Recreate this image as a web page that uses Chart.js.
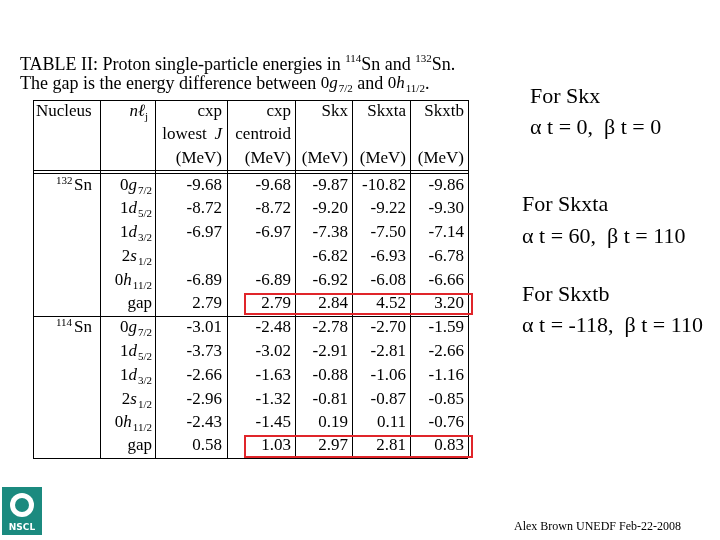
<!DOCTYPE html>
<html><head><meta charset="utf-8">
<script src="https://cdn.jsdelivr.net/npm/chart.js@4/dist/chart.umd.min.js"></script>
<style>html,body{margin:0;padding:0;background:#fff}#c{display:block}</style>
</head><body><canvas id="c" width="720" height="540"></canvas>
<script>
// table values (MeV), one list per column and nucleus
const orbitals = [["0","g","7/2"],["1","d","5/2"],["1","d","3/2"],["2","s","1/2"],["0","h","11/2"],["gap","",""]];
const sn132Exp   = [-9.68, -8.72, -6.97, null, -6.89, 2.79];
const sn132Cen   = [-9.68, -8.72, -6.97, null, -6.89, 2.79];
const sn132Skx   = [-9.87, -9.20, -7.38, -6.82, -6.92, 2.84];
const sn132Skxta = [-10.82, -9.22, -7.50, -6.93, -6.08, 4.52];
const sn132Skxtb = [-9.86, -9.30, -7.14, -6.78, -6.66, 3.20];
const sn114Exp   = [-3.01, -3.73, -2.66, -2.96, -2.43, 0.58];
const sn114Cen   = [-2.48, -3.02, -1.63, -1.32, -1.45, 1.03];
const sn114Skx   = [-2.78, -2.91, -0.88, -0.81, 0.19, 2.97];
const sn114Skxta = [-2.70, -2.81, -1.06, -0.87, 0.11, 2.81];
const sn114Skxtb = [-1.59, -2.66, -1.16, -0.85, -0.76, 0.83];

const colRight = [222, 291, 348, 406, 464];
const rowY132 = [186, 209, 233, 257, 281, 304];
const rowY114 = [328, 352, 376, 400, 423, 446];

const points = [];
function addCols(cols, ys) {
  cols.forEach((col, ci) => col.forEach((v, ri) => {
    if (v !== null) points.push({ x: colRight[ci], y: ys[ri], t: v.toFixed(2) });
  }));
}
addCols([sn132Exp, sn132Cen, sn132Skx, sn132Skxta, sn132Skxtb], rowY132);
addCols([sn114Exp, sn114Cen, sn114Skx, sn114Skxta, sn114Skxtb], rowY114);

const serif = '"Liberation Serif", "DejaVu Serif", serif';
const F = "17px " + serif, FI = "italic 17px " + serif, FS = "11px " + serif;

function orbWidth(ctx, o) {
  ctx.font = F; let w = ctx.measureText(o[0]).width;
  ctx.font = FI; w += ctx.measureText(o[1]).width + 1;
  ctx.font = FS; w += ctx.measureText(o[2]).width;
  return w;
}
function orbLeft(ctx, o, x, y) {
  ctx.textAlign = "left";
  ctx.font = F; ctx.fillText(o[0], x, y); x += ctx.measureText(o[0]).width;
  ctx.font = FI; ctx.fillText(o[1], x, y); x += ctx.measureText(o[1]).width + 1;
  ctx.font = FS; ctx.fillText(o[2], x, y + 5);
  return x + ctx.measureText(o[2]).width;
}
function orb(ctx, o, xr, y) {
  ctx.textAlign = "left";
  if (o[0] === "gap") {
    ctx.font = F;
    ctx.fillText("gap", xr - ctx.measureText("gap").width, y);
    return;
  }
  orbLeft(ctx, o, xr - orbWidth(ctx, o), y);
}

const tablePlugin = {
  id: "table",
  afterDatasetsDraw(chart) {
    const ctx = chart.ctx, xs = chart.scales.x, ys = chart.scales.y;
    const X = v => xs.getPixelForValue(v), Y = v => ys.getPixelForValue(v);
    ctx.save();
    ctx.fillStyle = "#000"; ctx.strokeStyle = "#000"; ctx.textBaseline = "middle";
    // caption
    const CF = "18px " + serif, CS = "11px " + serif;
    ctx.textAlign = "left";
    let x = 20;
    const put = (t, f, dy) => { ctx.font = f; ctx.fillText(t, x, 65 + dy); x += ctx.measureText(t).width; };
    put("TABLE II: Proton single-particle energies in ", CF, 0);
    put("114", CS, -6); put("Sn and ", CF, 0); put("132", CS, -6); put("Sn.", CF, 0);
    ctx.font = CF;
    ctx.fillText("The gap is the energy difference between ", 20, 84);
    x = 20 + ctx.measureText("The gap is the energy difference between ").width;
    x = orbLeft(ctx, ["0","g","7/2"], x, 84);
    ctx.font = CF; ctx.fillText(" and ", x, 84); x += ctx.measureText(" and ").width;
    x = orbLeft(ctx, ["0","h","11/2"], x, 84);
    ctx.font = CF; ctx.fillText(".", x, 84);

    // grid
    ctx.lineWidth = 1;
    [33, 100, 155, 227, 295, 352, 410, 468].forEach(gx => {
      ctx.beginPath(); ctx.moveTo(X(gx) + 0.5, Y(100)); ctx.lineTo(X(gx) + 0.5, Y(458)); ctx.stroke();
    });
    [100, 170, 173, 316, 458].forEach(gy => {
      ctx.beginPath(); ctx.moveTo(X(33), Y(gy) + 0.5); ctx.lineTo(X(468), Y(gy) + 0.5); ctx.stroke();
    });

    // header
    ctx.font = F; ctx.textAlign = "left";
    ctx.fillText("Nucleus", 36, 112);
    ctx.textAlign = "right";
    [["cxp", 222], ["cxp", 291], ["Skx", 348], ["Skxta", 406], ["Skxtb", 464]].forEach(h => ctx.fillText(h[0], h[1], 112));
    ctx.fillText("lowest ", 211, 135); ctx.font = FI; ctx.fillText("J", 222, 135);
    ctx.font = F; ctx.fillText("centroid", 291, 135);
    colRight.forEach(cx => ctx.fillText("(MeV)", cx, 159));
    ctx.font = FI; ctx.fillText("nℓ", 145, 112);
    ctx.font = FS; ctx.textAlign = "left"; ctx.fillText("j", 145, 117);

    // nucleus labels
    [["132", 186], ["114", 328]].forEach(n => {
      ctx.font = FS; ctx.textAlign = "left"; ctx.fillText(n[0], 56, n[1] - 5);
      ctx.font = F; ctx.fillText("Sn", 74, n[1]);
    });
    rowY132.forEach((y, i) => orb(ctx, orbitals[i], 152, y));
    rowY114.forEach((y, i) => orb(ctx, orbitals[i], 152, y));

    // values
    ctx.font = F; ctx.textAlign = "right";
    chart.getDatasetMeta(0).data.forEach((el, i) => ctx.fillText(points[i].t, el.x, el.y));

    // red boxes
    ctx.strokeStyle = "#e0252a"; ctx.lineWidth = 2;
    ctx.strokeRect(X(245), Y(294), X(472) - X(245), Y(314) - Y(294));
    ctx.strokeRect(X(245), Y(436), X(472) - X(245), Y(457) - Y(436));

    // side notes
    ctx.fillStyle = "#000"; ctx.textAlign = "left";
    const notes = [["For Skx", 530, 97], ["α t = 0,  β t = 0", 530, 128],
      ["For Skxta", 522, 205], ["α t = 60,  β t = 110", 522, 237],
      ["For Skxtb", 522, 295], ["α t = -118,  β t = 110", 522, 326]];
    ctx.font = "22px " + serif;
    notes.forEach(n => ctx.fillText(n[0], n[1], n[2]));
    ctx.font = "12px " + serif;
    ctx.fillText("Alex Brown UNEDF Feb-22-2008", 514, 527);

    // NSCL logo
    ctx.fillStyle = "#1b8a7f";
    ctx.fillRect(2, 487, 40, 48);
    ctx.fillStyle = "#fff";
    ctx.beginPath(); ctx.arc(22, 505, 12, 0, Math.PI * 2); ctx.fill();
    ctx.fillStyle = "#1b8a7f";
    ctx.beginPath(); ctx.arc(22, 505, 7, 0, Math.PI * 2); ctx.fill();
    ctx.fillStyle = "#fff"; ctx.font = "bold 9px \"DejaVu Sans\""; ctx.textAlign = "center";
    ctx.fillText("NSCL", 22, 528);
    ctx.restore();
  }
};

new Chart(document.getElementById("c"), {
  type: "scatter",
  data: { datasets: [{ data: points, pointRadius: 0, pointHoverRadius: 0 }] },
  options: {
    responsive: false, animation: false,
    layout: { padding: 0 },
    plugins: { legend: { display: false }, tooltip: { enabled: false } },
    scales: {
      x: { type: "linear", min: 0, max: 720, display: false },
      y: { type: "linear", min: 0, max: 540, reverse: true, display: false }
    }
  },
  plugins: [tablePlugin]
});
</script></body></html>
